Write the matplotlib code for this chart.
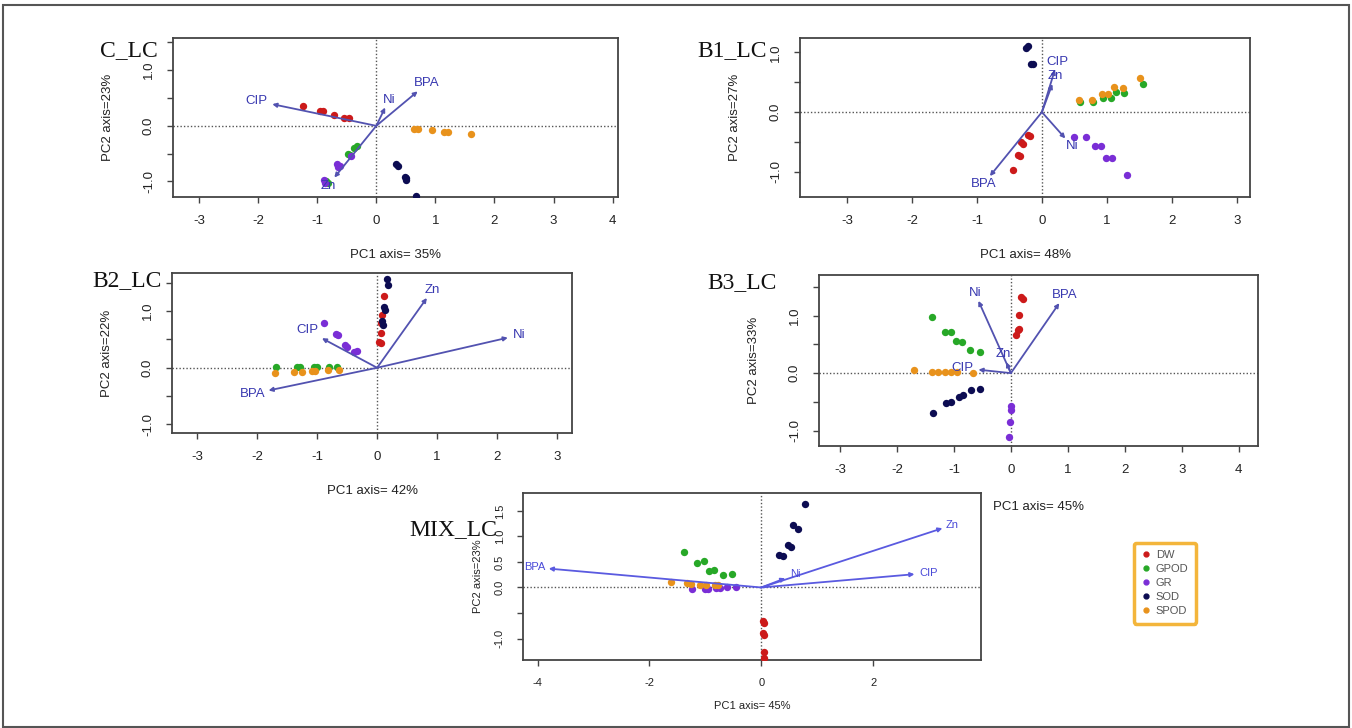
import matplotlib.pyplot as plt
import numpy as np
from matplotlib.patches import Rectangle
from matplotlib.lines import Line2D

plt.rcParams['font.family'] = ['Liberation Sans', 'DejaVu Sans']

W, H = 1352, 728

groups = ['DW', 'GPOD', 'GR', 'SOD', 'SPOD']
group_colors = ['#cc1a1a', '#27a827', '#7a2ed6', '#0c0c52', '#e8921c']

# ---- C_LC ----
c_grp = ['DW'] * 6 + ['GPOD'] * 6 + ['GR'] * 6 + ['SOD'] * 6 + ['SPOD'] * 6
c_pc1 = [-1.24, -0.96, -0.91, -0.72, -0.55, -0.47,
         -0.33, -0.38, -0.48, -0.45, -0.85, -0.82,
         -0.67, -0.64, -0.42, -0.88, -0.86, -0.62,
         0.33, 0.37, 0.48, 0.50, 0.50, 0.67,
         0.64, 0.70, 0.94, 1.15, 1.21, 1.61]
c_pc2 = [0.35, 0.27, 0.26, 0.19, 0.14, 0.14,
         -0.37, -0.40, -0.50, -0.52, -1.00, -1.03,
         -0.68, -0.74, -0.54, -0.98, -1.02, -0.72,
         -0.68, -0.72, -0.92, -0.97, -0.94, -1.27,
         -0.06, -0.06, -0.08, -0.11, -0.11, -0.15]
c_var = ['CIP', 'BPA', 'Ni', 'Zn']
c_var_pc1 = [-1.76, 0.70, 0.15, -0.71]
c_var_pc2 = [0.39, 0.62, 0.33, -0.93]

# ---- B1_LC ----
b1_grp = ['DW'] * 7 + ['GPOD'] * 7 + ['GR'] * 7 + ['SOD'] * 4 + ['SPOD'] * 7
b1_pc1 = [-0.21, -0.18, -0.32, -0.29, -0.37, -0.34, -0.45,
          0.59, 0.78, 0.94, 1.06, 1.14, 1.27, 1.55,
          0.50, 0.68, 0.82, 0.91, 0.98, 1.08, 1.31,
          -0.24, -0.21, -0.17, -0.14,
          0.57, 0.77, 0.92, 1.02, 1.11, 1.24, 1.51]
b1_pc2 = [-0.39, -0.40, -0.50, -0.53, -0.72, -0.73, -0.97,
          0.17, 0.17, 0.24, 0.24, 0.34, 0.32, 0.47,
          -0.41, -0.41, -0.56, -0.56, -0.77, -0.77, -1.06,
          1.08, 1.10, 0.81, 0.81,
          0.21, 0.21, 0.31, 0.30, 0.42, 0.41, 0.57]
b1_var = ['CIP', 'Zn', 'BPA', 'Ni']
b1_var_pc1 = [0.20, 0.16, -0.80, 0.36]
b1_var_pc2 = [0.71, 0.47, -1.07, -0.44]

# ---- B2_LC ----
b2_grp = ['DW'] * 6 + ['GPOD'] * 7 + ['GR'] * 7 + ['SOD'] * 6 + ['SPOD'] * 7
b2_pc1 = [0.12, 0.09, 0.07, 0.06, 0.04, 0.07,
          -1.69, -1.33, -1.28, -1.06, -1.00, -0.81, -0.67,
          -0.89, -0.69, -0.66, -0.54, -0.50, -0.39, -0.33,
          0.16, 0.18, 0.12, 0.14, 0.08, 0.10,
          -1.71, -1.39, -1.25, -1.08, -1.03, -0.82, -0.64]
b2_pc2 = [1.26, 0.93, 0.79, 0.62, 0.46, 0.43,
          0.01, 0.01, 0.01, 0.01, 0.01, 0.01, 0.01,
          0.79, 0.59, 0.57, 0.40, 0.36, 0.27, 0.30,
          1.57, 1.45, 1.07, 1.01, 0.82, 0.75,
          -0.09, -0.07, -0.07, -0.06, -0.06, -0.04, -0.04]
b2_var = ['CIP', 'BPA', 'Zn', 'Ni']
b2_var_pc1 = [-0.92, -1.81, 0.83, 2.18]
b2_var_pc2 = [0.52, -0.40, 1.23, 0.53]

# ---- B3_LC ----
b3_grp = ['DW'] * 6 + ['GPOD'] * 7 + ['GR'] * 4 + ['SOD'] * 7 + ['SPOD'] * 7
b3_pc1 = [0.17, 0.21, 0.14, 0.12, 0.15, 0.09,
          -1.39, -1.16, -1.06, -0.97, -0.86, -0.72, -0.55,
          0.00, 0.00, -0.01, -0.03,
          -1.37, -1.14, -1.05, -0.92, -0.84, -0.70, -0.54,
          -1.70, -1.39, -1.28, -1.16, -1.05, -0.95, -0.66]
b3_pc2 = [1.32, 1.30, 1.01, 0.75, 0.77, 0.67,
          0.97, 0.72, 0.71, 0.56, 0.55, 0.41, 0.37,
          -0.58, -0.64, -0.85, -1.12,
          -0.69, -0.52, -0.51, -0.41, -0.38, -0.29, -0.28,
          0.06, 0.02, 0.02, 0.02, 0.02, 0.02, 0.01]
b3_var = ['Ni', 'BPA', 'Zn', 'CIP']
b3_var_pc1 = [-0.57, 0.85, -0.08, -0.57]
b3_var_pc2 = [1.26, 1.22, 0.19, 0.06]

# ---- MIX_LC ----
mix_grp = ['DW'] * 6 + ['GPOD'] * 7 + ['GR'] * 7 + ['SOD'] * 7 + ['SPOD'] * 7
mix_pc1 = [0.04, 0.05, 0.04, 0.05, 0.05, 0.05,
           -1.38, -1.14, -1.03, -0.93, -0.85, -0.69, -0.52,
           -1.23, -1.00, -0.95, -0.81, -0.74, -0.61, -0.45,
           0.79, 0.57, 0.65, 0.48, 0.53, 0.31, 0.39,
           -1.61, -1.33, -1.26, -1.09, -0.99, -0.83, -0.78]
mix_pc2 = [-0.66, -0.70, -0.89, -0.93, -1.26, -1.38,
           0.69, 0.48, 0.51, 0.33, 0.35, 0.24, 0.26,
           -0.02, -0.02, -0.02, -0.01, -0.01, 0.00, 0.00,
           1.64, 1.23, 1.15, 0.84, 0.79, 0.64, 0.61,
           0.11, 0.08, 0.07, 0.05, 0.05, 0.05, 0.05]
mix_var = ['BPA', 'Zn', 'CIP', 'Ni']
mix_var_pc1 = [-3.80, 3.24, 2.74, 0.43]
mix_var_pc2 = [0.37, 1.16, 0.26, 0.18]

fig = plt.figure(figsize=(W / 100, H / 100), dpi=100)


def panel(box, xlim, ylim, xticks, yticks, ylabels, title, title_xy, xlab, ylab,
          pc1, pc2, grp, var, vx, vy, fs=9.5, xlab_off=58, ylab_off=65,
          acol='#5252b0', lcol='#3838b0', tfs=17):
    x0, y0, x1, y1 = box
    ax = fig.add_axes([x0 / W, 1 - y1 / H, (x1 - x0) / W, (y1 - y0) / H])
    ax.set_xlim(xlim)
    ax.set_ylim(ylim)
    ax.axhline(0, color='#555555', lw=1, ls=(0, (1, 1.5)), zorder=1)
    ax.axvline(0, color='#555555', lw=1, ls=(0, (1, 1.5)), zorder=1)

    pc1 = np.array(pc1)
    pc2 = np.array(pc2)
    grp = np.array(grp)
    for g, col in zip(groups, group_colors):
        m = grp == g
        ax.scatter(pc1[m], pc2[m], s=28, color=col, lw=0, zorder=3)

    # variable arrows with labels placed just beyond the tips
    for name, x, y in zip(var, vx, vy):
        ax.annotate('', xy=(x, y), xytext=(0, 0),
                    arrowprops=dict(arrowstyle='-|>', color=acol, lw=1.3,
                                    mutation_scale=6, shrinkA=0, shrinkB=0),
                    zorder=4)
        r = np.hypot(x, y)
        ux, uy = x / r, y / r
        hw = len(name) * fs * 0.33 + 2
        hh = fs * 0.5 + 1
        t = min(hw / abs(ux) if ux else 1e9, hh / abs(uy) if uy else 1e9)
        ax.annotate(name, xy=(x, y), xytext=(ux * t, uy * t),
                    textcoords='offset points', ha='center', va='center',
                    color=lcol, fontsize=fs, zorder=5)

    for s in ax.spines.values():
        s.set_color('#444444')
        s.set_linewidth(1.3)
    ax.set_xticks(xticks)
    ax.set_xticklabels([str(t) for t in xticks])
    ax.set_yticks(yticks)
    ax.set_yticklabels(ylabels, rotation=90, va='center')
    ax.tick_params(direction='out', length=4, width=1, color='#444444',
                   labelsize=fs, labelcolor='#222222', pad=9)

    ax.set_xlabel(xlab, fontsize=fs, color='#222222')
    ax.xaxis.label.set_va('center')
    ax.xaxis.set_label_coords(0.5, -xlab_off / (y1 - y0))
    ax.set_ylabel(ylab, fontsize=fs, color='#222222')
    ax.yaxis.label.set_va('center')
    ax.yaxis.set_label_coords(-ylab_off / (x1 - x0), 0.5)

    fig.text(title_xy[0] / W, 1 - title_xy[1] / H, title, ha='right', va='center',
             fontsize=tfs, family='Liberation Serif', color='#111111')
    return ax


panel((173, 38, 618, 197), (-3.44, 4.09), (-1.28, 1.58),
      [-3, -2, -1, 0, 1, 2, 3, 4], [-1, -0.5, 0, 0.5, 1, 1.5],
      ['-1.0', '', '0.0', '', '1.0', ''],
      'C_LC', (158, 51), 'PC1 axis= 35%', 'PC2 axis=23%',
      c_pc1, c_pc2, c_grp, c_var, c_var_pc1, c_var_pc2)

panel((800, 38, 1250, 197), (-3.72, 3.20), (-1.42, 1.24),
      [-3, -2, -1, 0, 1, 2, 3], [-1, -0.5, 0, 0.5, 1],
      ['-1.0', '', '0.0', '', '1.0'],
      'B1_LC', (767, 51), 'PC1 axis= 48%', 'PC2 axis=27%',
      b1_pc1, b1_pc2, b1_grp, b1_var, b1_var_pc1, b1_var_pc2)

panel((172, 273, 572, 433), (-3.42, 3.25), (-1.15, 1.67),
      [-3, -2, -1, 0, 1, 2, 3], [-1, -0.5, 0, 0.5, 1, 1.5],
      ['-1.0', '', '0.0', '', '1.0', ''],
      'B2_LC', (162, 281), 'PC1 axis= 42%', 'PC2 axis=22%',
      b2_pc1, b2_pc2, b2_grp, b2_var, b2_var_pc1, b2_var_pc2)

panel((819, 275, 1258, 446), (-3.37, 4.34), (-1.27, 1.71),
      [-3, -2, -1, 0, 1, 2, 3, 4], [-1, -0.5, 0, 0.5, 1, 1.5],
      ['-1.0', '', '0.0', '', '1.0', ''],
      'B3_LC', (777, 283), 'PC1 axis= 45%', 'PC2 axis=33%',
      b3_pc1, b3_pc2, b3_grp, b3_var, b3_var_pc1, b3_var_pc2, xlab_off=61)

panel((523, 493, 981, 660), (-4.26, 3.93), (-1.42, 1.85),
      [-4, -2, 0, 2], [-1, -0.5, 0, 0.5, 1, 1.5],
      ['-1.0', '', '0.0', '0.5', '1.0', '1.5'],
      'MIX_LC', (497, 530), 'PC1 axis= 45%', 'PC2 axis=23%',
      mix_pc1, mix_pc2, mix_grp, mix_var, mix_var_pc1, mix_var_pc2,
      fs=8, xlab_off=46, ylab_off=45, acol='#5a5ae0', lcol='#4a4ad8')

handles = [Line2D([], [], ls='none', marker='o', ms=3.5, color=c) for c in group_colors]
leg = fig.legend(handles, groups, loc='upper left',
                 bbox_to_anchor=(1128 / W, 1 - 537 / H), frameon=True, fancybox=True,
                 edgecolor='#f0a30a', fontsize=8, labelspacing=0.35,
                 handlelength=0.8, handletextpad=0.5, borderpad=0.7)
leg.get_frame().set_linewidth(2.5)
for t in leg.get_texts():
    t.set_color('#555555')

fig.patches.append(Rectangle((3 / W, 1 / H), 1346 / W, 722 / H, transform=fig.transFigure,
                             fill=False, ec='#555555', lw=1.5))

fig.savefig('out.png', dpi=100, facecolor='white')
